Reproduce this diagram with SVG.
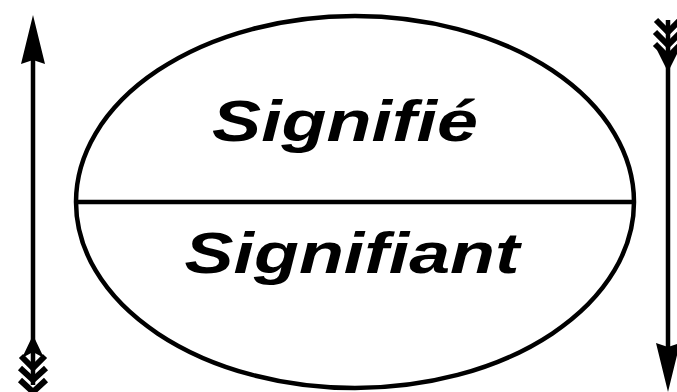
<svg xmlns="http://www.w3.org/2000/svg" width="677" height="392" viewBox="0 0 677 392">
<style>
.ln{stroke:#000;stroke-width:4.5;fill:none}
.lbl{font-family:"Liberation Sans",Arial,sans-serif;font-style:italic;font-weight:bold;font-size:58px;fill:#000}
.hd{fill:#000}
.fl{stroke:#000;stroke-width:6;fill:none}
</style>
<rect width="677" height="392" fill="#fff"/>
<g id="sign">
<ellipse class="ln" cx="355" cy="202" rx="279" ry="186"/>
<line class="ln" x1="77" y1="202" x2="633" y2="202"/>
</g>
<g id="signifie"><text class="lbl" x="345" y="141" text-anchor="middle" textLength="266" lengthAdjust="spacingAndGlyphs">Signifié</text></g>
<g id="signifiant"><text class="lbl" x="352" y="273" text-anchor="middle" textLength="335" lengthAdjust="spacingAndGlyphs">Signifiant</text></g>
<g id="connectors">
<g id="left-arrow">
<line class="ln" x1="33" y1="50" x2="33" y2="385"/>
<polygon class="hd" points="33,15 45,64 33,60 21,64"/>
<path class="hd" d="M33,335 L44,358 L33,352 L22,358 Z"/>
<path class="fl" d="M21,356 L33,368 L45,356 M20,368 L33,380 L46,368 M20,380 L33,392 L46,380"/>
</g>
<g id="right-arrow">
<line class="ln" x1="668" y1="20" x2="668" y2="355"/>
<polygon class="hd" points="668,392 656,343 668,347 680,343"/>
<path class="fl" d="M656,20 L668,32 L680,20 M655,32 L668,45 L681,32 M655,44 L668,57 L681,44"/>
<path class="hd" d="M668,72 L679,50 L668,56 L657,50 Z"/>
</g>
</g>
</svg>
